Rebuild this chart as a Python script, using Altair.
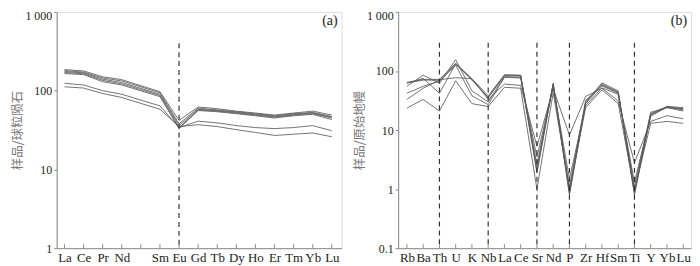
import altair as alt
import pandas as pd

# ---------------- data ----------------
ree_elements = ["La", "Ce", "Pr", "Nd", "Pm", "Sm", "Eu", "Gd", "Tb", "Dy", "Ho", "Er", "Tm", "Yb", "Lu"]
ree_plotted = ["La", "Ce", "Pr", "Nd", "Sm", "Eu", "Gd", "Tb", "Dy", "Ho", "Er", "Tm", "Yb", "Lu"]

ree_s1 = [185, 178, 150, 138, 97, 42, 62, 59, 55, 52, 49, 52, 55, 49]
ree_s2 = [180, 172, 145, 133, 94, 38, 60, 57, 54, 51, 48, 51, 53, 47]
ree_s3 = [175, 168, 140, 127, 90, 36, 58, 56, 53, 50, 47, 50, 52, 46]
ree_s4 = [170, 164, 135, 122, 87, 34, 57, 55, 52, 49, 46, 49, 51, 45]
ree_s5 = [165, 160, 130, 118, 84, 33, 56, 54, 51, 48, 45, 48, 50, 43]
ree_s6 = [124, 118, 100, 90, 64, 34, 41, 39, 36, 34, 33, 34, 36, 31]
ree_s7 = [112, 108, 92, 82, 58, 35, 37, 35, 32, 29.5, 27, 28, 29, 26]
ree_series = [ree_s1, ree_s2, ree_s3, ree_s4, ree_s5, ree_s6, ree_s7]

tr_elements = ["Rb", "Ba", "Th", "U", "K", "Nb", "La", "Ce", "Sr", "Nd", "P", "Zr", "Hf", "Sm", "Ti", "Y", "Yb", "Lu"]
tr_s1 = [64, 72, 72, 135, 74, 38, 86, 85, 2.2, 62, 0.9, 30, 63, 46, 0.85, 19, 25, 23]
tr_s2 = [62, 75, 42, 132, 72, 35, 83, 82, 1.9, 60, 0.8, 28, 58, 43, 0.8, 18, 24, 22]
tr_s3 = [55, 85, 62, 155, 46, 30, 80, 78, 2.6, 58, 1.1, 32, 56, 42, 1.1, 20, 24, 21]
tr_s4 = [42, 55, 67, 125, 38, 27, 78, 76, 3.5, 55, 1.5, 26, 52, 40, 1.3, 17, 25, 24]
tr_s5 = [33, 51, 71, 77, 74, 33, 60, 57, 5.3, 50, 8.2, 37, 51, 31, 2.8, 14, 17.5, 15.5]
tr_s6 = [23.5, 33, 21, 68, 28, 25, 53, 51, 1.0, 43, 1.0, 24, 48, 28, 0.95, 13, 14, 13]
tr_s7 = [63, 70, 70, 130, 70, 36, 85, 84, 2.0, 61, 0.85, 29, 60, 44, 0.9, 18.5, 24.5, 22.5]
tr_series = [tr_s1, tr_s2, tr_s3, tr_s4, tr_s5, tr_s6, tr_s7]

ree_dashed = ["Eu"]
tr_dashed = ["Th", "Nb", "Sr", "P", "Ti"]
ree_dash_top = 400
tr_dash_top = 300

ree_yticks = [1, 10, 100, 1000]
tr_yticks = [0.1, 1, 10, 100, 1000]

# ---------------- tables ----------------
ree_rows = []
for i, s in enumerate(ree_series):
    for el, v in zip(ree_plotted, s):
        ree_rows.append({"sample": f"s{i+1}", "pos": ree_elements.index(el), "val": v})
ree_df = pd.DataFrame(ree_rows)
ree_tick_df = pd.DataFrame({"pos": list(range(len(ree_elements)))})
ree_dash_df = pd.DataFrame({"pos": [ree_elements.index(e) for e in ree_dashed],
                            "val": [ree_dash_top] * len(ree_dashed)})

tr_rows = []
for i, s in enumerate(tr_series):
    for j, v in enumerate(s):
        tr_rows.append({"sample": f"s{i+1}", "pos": j, "val": v})
tr_df = pd.DataFrame(tr_rows)
tr_tick_df = pd.DataFrame({"pos": list(range(len(tr_elements)))})
tr_dash_df = pd.DataFrame({"pos": [tr_elements.index(e) for e in tr_dashed],
                           "val": [tr_dash_top] * len(tr_dashed)})

# ---------------- style ----------------
FRAME = "#8a8a8a"
LINE = "#5a5a5a"
SERIF = "Liberation Serif"
CJK = "Noto Sans CJK SC"
H = 238
W1 = 287
W2 = 295

ylabel_expr = "datum.value == 1000 ? '1 000' : (datum.value < 1 ? '0.1' : format(datum.value, 'd'))"
label_offset = {"condition": {"test": "datum.value == 1000", "value": 4}, "value": 0}


def panel(df, tick_df, dash_df, names, hidden, xdom, ydom, yticks, ytitle, tag, width):
    names_js = "[" + ",".join("'" + ("" if n in hidden else n) + "'" for n in names) + "]"
    x = alt.X("pos:Q",
              scale=alt.Scale(domain=xdom, nice=False, zero=False),
              axis=alt.Axis(values=list(range(len(names))), labelExpr=names_js + "[datum.value]",
                            ticks=False, grid=False, title=None, labelFontSize=13,
                            labelPadding=3, labelFont=SERIF, labelColor="#222",
                            domainColor=FRAME, labelFlush=False, labelOverlap=False,
                            labelBound=False))
    y = alt.Y("val:Q",
              scale=alt.Scale(type="log", domain=ydom, nice=False),
              axis=alt.Axis(values=yticks, labelExpr=ylabel_expr, grid=False, tickSize=3,
                            tickColor=FRAME, domainColor=FRAME, labelFontSize=12,
                            labelFont=SERIF, labelColor="#222", labelPadding=2,
                            labelOverlap=False,
                            labelOffset=label_offset, title=ytitle, titleFont=CJK,
                            titleFontSize=12.5, titleFontWeight="normal", titleColor="#7a7a7a",
                            titlePadding=0))
    lines = alt.Chart(df).mark_line(color=LINE, strokeWidth=0.85).encode(x=x, y=y, detail="sample:N")
    dash = alt.Chart(dash_df).mark_rule(color="#333", strokeWidth=1.2, strokeDash=[5, 4]).encode(
        x=x, y=y, y2=alt.datum(ydom[0]))
    ticks = alt.Chart(tick_df).mark_rule(color=FRAME, strokeWidth=1).encode(
        x=x, y=alt.value(H - 4), y2=alt.value(H))
    label = alt.Chart(pd.DataFrame({"t": [tag]})).mark_text(
        align="right", baseline="middle", font=SERIF, fontSize=14, color="#222").encode(
        text="t:N", x=alt.value(width - 4), y=alt.value(9))
    return alt.layer(lines, dash, ticks, label).properties(width=width, height=H)


left = panel(ree_df, ree_tick_df, ree_dash_df, ree_elements, {"Pm"}, [-0.41, 14.51],
             [1, 1000], ree_yticks, "样品/球粒陨石", "(a)", W1)
right = panel(tr_df, tr_tick_df, tr_dash_df, tr_elements, set(), [-0.54, 17.48],
              [0.1, 1000], tr_yticks, "样品/原始地幔", "(b)", W2)

chart = alt.hconcat(left, right, spacing=57, bounds="flush").properties(
    padding={"left": 3, "top": 0, "right": 0, "bottom": 0}
).configure_view(stroke=FRAME, strokeWidth=1).configure_axis(
    labelOverlap=False).configure(background="white")

chart.save("out.html", embed_options={"renderer": "svg", "actions": False})
